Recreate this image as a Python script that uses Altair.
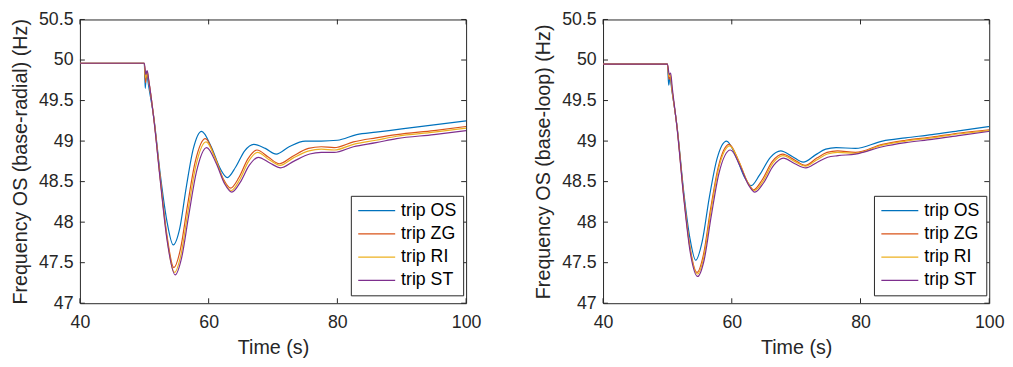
import altair as alt
import pandas as pd

series_names = ["trip OS", "trip ZG", "trip RI", "trip ST"]
colors = ["#0072BD", "#D95319", "#EDB120", "#7E2F8E"]
x_ticks = [40, 60, 80, 100]
y_ticks = [47, 47.5, 48, 48.5, 49, 49.5, 50, 50.5]

# ---- base-radial panel ----
t_os_r = [40, 50.0, 50.15, 50.35, 50.6, 51.5, 52.5, 53.5, 54.5, 55.5, 56.5, 57.6, 58.9, 60.4, 61.8, 62.9, 64.2, 65.6, 67.0, 68.8, 70.5, 72.5, 75.0, 77.5, 80.0, 83.0, 86.0, 90.0, 95.0, 100.0]
f_os_r = [49.96, 49.96, 49.65, 49.86, 49.72, 49.28, 48.58, 48.02, 47.72, 47.92, 48.42, 48.90, 49.12, 48.93, 48.66, 48.55, 48.68, 48.88, 48.96, 48.91, 48.84, 48.93, 49.00, 49.00, 49.01, 49.08, 49.11, 49.15, 49.20, 49.25]
t_zg_r = [40, 50.0, 50.2, 50.4, 50.7, 51.5, 52.5, 53.5, 54.6, 55.6, 56.7, 57.9, 59.5, 61.0, 62.3, 63.4, 64.7, 66.1, 67.5, 69.3, 71.0, 73.0, 75.5, 77.5, 79.5, 82.5, 86.0, 89.2, 95.0, 100.0]
f_zg_r = [49.96, 49.96, 49.72, 49.85, 49.73, 49.27, 48.53, 47.85, 47.44, 47.66, 48.20, 48.74, 49.03, 48.80, 48.53, 48.42, 48.55, 48.78, 48.89, 48.80, 48.72, 48.81, 48.91, 48.93, 48.92, 48.99, 49.04, 49.08, 49.13, 49.18]
t_ri_r = [40, 50.0, 50.2, 50.45, 50.7, 51.5, 52.5, 53.5, 54.7, 55.7, 56.8, 58.0, 59.6, 61.1, 62.4, 63.5, 64.8, 66.2, 67.6, 69.4, 71.1, 73.1, 75.6, 77.5, 79.5, 82.5, 86.0, 89.2, 95.0, 100.0]
f_ri_r = [49.96, 49.96, 49.78, 49.86, 49.74, 49.27, 48.52, 47.82, 47.38, 47.60, 48.14, 48.69, 48.99, 48.77, 48.50, 48.39, 48.52, 48.75, 48.86, 48.77, 48.70, 48.79, 48.88, 48.90, 48.89, 48.96, 49.01, 49.06, 49.11, 49.16]
t_st_r = [40, 50.0, 50.25, 50.45, 50.7, 51.5, 52.5, 53.5, 54.8, 55.8, 56.9, 58.1, 59.7, 61.2, 62.5, 63.6, 64.9, 66.3, 67.7, 69.5, 71.2, 73.2, 75.7, 77.5, 79.5, 82.5, 86.0, 89.2, 95.0, 100.0]
f_st_r = [49.96, 49.96, 49.82, 49.87, 49.75, 49.26, 48.50, 47.80, 47.35, 47.56, 48.08, 48.62, 48.92, 48.72, 48.47, 48.37, 48.49, 48.70, 48.80, 48.73, 48.67, 48.75, 48.84, 48.86, 48.86, 48.93, 48.98, 49.03, 49.08, 49.13]

# ---- base-loop panel ----
t_os_l = [40, 50.0, 50.2, 50.4, 50.7, 51.5, 52.5, 53.5, 54.4, 55.4, 56.5, 57.7, 59.2, 60.7, 62.0, 63.0, 64.3, 66.0, 67.6, 69.4, 71.1, 73.0, 74.6, 76.2, 79.2, 83.4, 87.0, 91.1, 95.5, 100.0]
f_os_l = [49.95, 49.95, 49.69, 49.78, 49.62, 49.18, 48.40, 47.80, 47.53, 47.76, 48.30, 48.78, 49.00, 48.80, 48.55, 48.45, 48.58, 48.80, 48.88, 48.81, 48.74, 48.83, 48.90, 48.92, 48.91, 49.00, 49.04, 49.08, 49.13, 49.18]
t_zg_l = [40, 50.0, 50.25, 50.45, 50.7, 51.5, 52.5, 53.5, 54.6, 55.6, 56.7, 57.9, 59.6, 61.1, 62.4, 63.4, 64.7, 66.3, 67.9, 69.7, 71.4, 73.2, 74.8, 76.4, 79.2, 83.4, 87.0, 91.1, 95.5, 100.0]
f_zg_l = [49.95, 49.95, 49.76, 49.80, 49.64, 49.17, 48.36, 47.70, 47.38, 47.60, 48.16, 48.68, 48.96, 48.75, 48.50, 48.40, 48.52, 48.75, 48.84, 48.77, 48.70, 48.79, 48.86, 48.88, 48.86, 48.96, 49.01, 49.05, 49.10, 49.14]
t_ri_l = [40, 50.0, 50.25, 50.45, 50.7, 51.5, 52.5, 53.5, 54.65, 55.65, 56.75, 57.95, 59.7, 61.2, 62.5, 63.5, 64.8, 66.4, 67.95, 69.75, 71.45, 73.25, 74.85, 76.45, 79.2, 83.4, 87.0, 91.1, 95.5, 100.0]
f_ri_l = [49.95, 49.95, 49.80, 49.82, 49.65, 49.17, 48.35, 47.68, 47.36, 47.57, 48.13, 48.66, 48.94, 48.73, 48.49, 48.39, 48.50, 48.73, 48.82, 48.75, 48.69, 48.77, 48.84, 48.86, 48.85, 48.95, 49.00, 49.04, 49.09, 49.13]
t_st_l = [40, 50.0, 50.3, 50.5, 50.75, 51.5, 52.5, 53.5, 54.7, 55.7, 56.8, 58.0, 59.8, 61.3, 62.6, 63.6, 64.9, 66.5, 68.0, 69.8, 71.5, 73.3, 74.9, 76.5, 79.2, 83.4, 87.0, 91.1, 95.5, 100.0]
f_st_l = [49.95, 49.95, 49.82, 49.84, 49.66, 49.16, 48.33, 47.65, 47.33, 47.53, 48.07, 48.60, 48.89, 48.69, 48.46, 48.37, 48.48, 48.70, 48.79, 48.72, 48.67, 48.74, 48.80, 48.82, 48.84, 48.93, 48.98, 49.02, 49.07, 49.12]

W, H = 392, 288
AX = "#262626"
FONT = "Liberation Sans"
TICK = 5


def panel(pairs, ytitle):
    rows = []
    for name, (ts, fs) in zip(series_names, pairs):
        for i, (t, f) in enumerate(zip(ts, fs)):
            rows.append({"t": t, "f": f, "series": name, "idx": i})
    df = pd.DataFrame(rows)

    xs = alt.Scale(domain=[40, 100], nice=False, zero=False)
    ys = alt.Scale(domain=[47, 50.5], nice=False, zero=False)
    xaxis = alt.Axis(values=x_ticks, title="Time (s)", labelFlush=False,
                     labelPadding=11, titlePadding=6, format="d")
    yaxis = alt.Axis(values=y_ticks, title=ytitle, labelPadding=7, titlePadding=8, format="~g")

    lines = alt.Chart(df).mark_line(strokeWidth=1.2, interpolate="monotone", clip=True).encode(
        x=alt.X("t:Q", scale=xs, axis=xaxis),
        y=alt.Y("f:Q", scale=ys, axis=yaxis),
        color=alt.Color("series:N",
                        scale=alt.Scale(domain=series_names, range=colors),
                        legend=alt.Legend(orient="none", legendX=275, legendY=179,
                                          title=None, strokeColor=AX, fillColor="white",
                                          padding=6, symbolType="M-1,0H4", symbolSize=225,
                                          symbolStrokeWidth=1.2, labelFontSize=18,
                                          labelFont=FONT, labelColor="black",
                                          labelOffset=27, rowPadding=5.6, labelLimit=200)),
        order="idx:Q",
    )

    xt = pd.DataFrame({"t": x_ticks})
    yt = pd.DataFrame({"f": y_ticks})
    rule = dict(color=AX, strokeWidth=1)
    bottom = alt.Chart(xt).mark_rule(**rule).encode(
        x=alt.X("t:Q", scale=xs, axis=xaxis), y=alt.value(H - TICK), y2=alt.value(H))
    top = alt.Chart(xt).mark_rule(**rule).encode(
        x=alt.X("t:Q", scale=xs, axis=xaxis), y=alt.value(0), y2=alt.value(TICK))
    left = alt.Chart(yt).mark_rule(**rule).encode(
        y=alt.Y("f:Q", scale=ys, axis=yaxis), x=alt.value(0), x2=alt.value(TICK))
    right = alt.Chart(yt).mark_rule(**rule).encode(
        y=alt.Y("f:Q", scale=ys, axis=yaxis), x=alt.value(W - TICK), x2=alt.value(W))

    return alt.layer(lines, bottom, top, left, right).properties(width=W, height=H)


p1 = panel([(t_os_r, f_os_r), (t_zg_r, f_zg_r), (t_ri_r, f_ri_r), (t_st_r, f_st_r)],
           "Frequency OS (base-radial) (Hz)")
p2 = panel([(t_os_l, f_os_l), (t_zg_l, f_zg_l), (t_ri_l, f_ri_l), (t_st_l, f_st_l)],
           "Frequency OS (base-loop) (Hz)")

chart = alt.hconcat(p1, p2, spacing=52).resolve_scale(color="independent").resolve_legend(
    color="independent"
).properties(
    padding={"left": 2, "top": -1, "right": 0, "bottom": 0},
    background="white",
).configure_view(
    stroke=AX, strokeWidth=1
).configure_axis(
    grid=False, ticks=False, domain=False,
    labelFont=FONT, labelFontSize=18, labelColor=AX,
    titleFont=FONT, titleFontSize=20, titleFontWeight="normal", titleColor=AX,
)

chart.save("out.html", embed_options={"renderer": "svg", "actions": False})
